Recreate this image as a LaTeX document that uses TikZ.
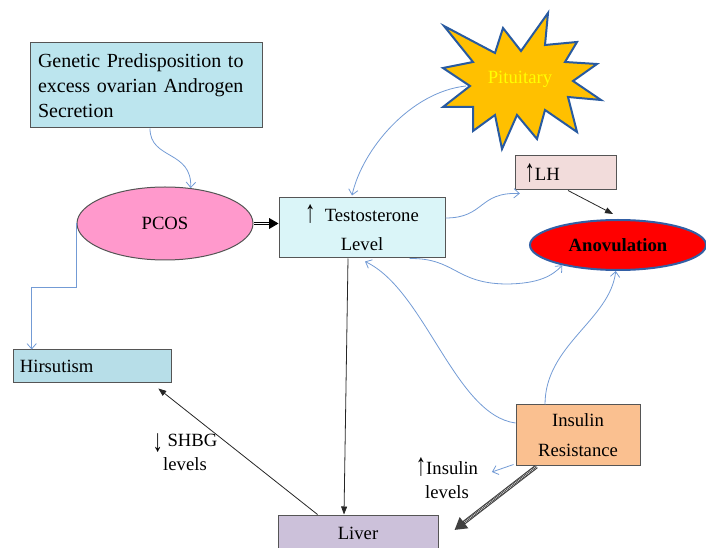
\documentclass[tikz,border=0pt]{standalone}
\usepackage{fontspec}
\setmainfont{Liberation Serif}
\usetikzlibrary{shapes.geometric,arrows.meta,calc}

\newcommand{\uparr}{\raisebox{-1pt}{\scalebox{1.1}[1.7]{↑}}}
\newcommand{\downarr}{\raisebox{-4pt}{\scalebox{1.1}[1.7]{↓}}}

\tikzset{every picture/.style={line width=0.75pt}}
\tikzset{
	box/.style={rectangle, draw={rgb, 255:red, 85; green, 85; blue, 85 }, inner sep=3pt, font=\fontsize{14}{22}\selectfont},
	oval/.style={ellipse, inner sep=0pt, font=\fontsize{14}{17}\selectfont},
	note text/.style={align=center, inner sep=1pt, font=\fontsize{14}{18}\selectfont},
	blue link/.style={draw={rgb, 255:red, 115; green, 155; blue, 213 }, line width=0.6pt, -{Straight Barb[length=4pt,width=7pt]}},
	black link/.style={draw=black!85, line width=0.6pt, -{Triangle[length=6pt,width=4.5pt]}},
	double link/.style={draw=black, double, double distance=1.4pt, line width=0.7pt, -{Triangle[length=7pt,width=8pt]}},
	hatch link/.style={draw=black!75, line width=3pt, -{Triangle[length=9pt,width=10pt]},
		postaction={draw=white!65!gray, line width=1.6pt, dash pattern=on 0.5pt off 0.8pt, shorten >=9pt, -}}
}

\begin{document}
\begin{tikzpicture}[x=0.75pt,y=0.75pt,yscale=-1,xscale=1]
	\useasboundingbox (0,0) rectangle (706,548);

	%Shape: Explosion
	\draw [fill={rgb, 255:red, 255; green, 192; blue, 0 }, draw={rgb, 255:red, 40; green, 90; blue, 160 }, line width=1.5pt, line join=miter]
		(444,26) -- (495,53) -- (503,28) -- (521,51) -- (548,13) -- (545,45) -- (577,42) -- (565,62) -- (597,64) -- (573,81)
		-- (601,100) -- (568,97) -- (577,132) -- (545,110) -- (537,139) -- (517,115) -- (502,149) -- (495,115) -- (473,131)
		-- (473,107) -- (443,107) -- (470,86) -- (443,68) -- (473,62) -- cycle ;
	\coordinate (pitl) at (466,86);

	% Text Node
	\node [font=\fontsize{14}{17}\selectfont, text={rgb, 255:red, 255; green, 255; blue, 0 }] (pit) at (520,79) {Pituitary};
	% Text Node
	\node [box, fill={rgb, 255:red, 188; green, 229; blue, 238 }, minimum width=174pt, minimum height=63.75pt, text width=162pt, inner xsep=6pt, align=left, font=\fontsize{15}{18.5}\selectfont] (gen) at (146,85.5) {Genetic Predisposition to\\excess ovarian Androgen\\Secretion};
	% Text Node
	\node [oval, fill={rgb, 255:red, 255; green, 153; blue, 204 }, draw={rgb, 255:red, 85; green, 85; blue, 85 }, minimum width=132pt, minimum height=54.75pt] (pcos) at (165,223.5) {PCOS};
	% Text Node
	\node [box, fill={rgb, 255:red, 218; green, 245; blue, 248 }, minimum width=124.5pt, minimum height=45pt, align=center] (testo) at (362,228) {\uparr\ \ Testosterone\\Level};
	% Text Node
	\node [box, fill={rgb, 255:red, 242; green, 220; blue, 219 }, minimum height=25.5pt, text width=62pt, inner xsep=7pt, align=left] (lh) at (566,173) {\uparr LH};
	% Text Node
	\node [oval, fill={rgb, 255:red, 255; green, 0; blue, 0 }, draw={rgb, 255:red, 50; green, 95; blue, 165 }, line width=1.5pt, minimum width=132pt, minimum height=37.5pt, font=\fontsize{14}{17}\selectfont\bfseries] (anov) at (618,245) {Anovulation};
	% Text Node
	\node [box, fill={rgb, 255:red, 183; green, 222; blue, 232 }, minimum height=24.75pt, text width=109pt, inner xsep=5pt, align=left] (hirs) at (92.5,366.5) {Hirsutism};
	% Text Node
	\node [box, fill={rgb, 255:red, 250; green, 192; blue, 144 }, minimum width=93pt, minimum height=45pt, align=center] (ins) at (578,435) {Insulin\\Resistance};
	% Text Node
	\node [box, fill={rgb, 255:red, 204; green, 193; blue, 218 }, minimum width=120pt, minimum height=27pt] (liver) at (358,533) {Liver};
	% Text Node
	\node [note text] (shbg) at (185,452) {\downarr\ SHBG\\levels};
	% Text Node
	\node [note text] (inslev) at (447,478) {\uparr Insulin\\levels};

	%Curve Lines
	\draw [blue link] ($(gen.south)+(4,0)$) .. controls (150,160) and (192,150) .. (pcos.54) ;
	%Straight Lines
	\draw [double link] (pcos.east) -- (pcos.east -| testo.west) ;
	%Curve Lines
	\draw [blue link] (pitl) .. controls (410,92) and (362,150) .. ($(testo.north)+(-10,-2)$) ;
	%Curve Lines
	\draw [blue link] ($(testo.east)+(0,-10)$) .. controls (485,218) and (478,192) .. ($(lh.south west)+(5,3)$) ;
	%Straight Lines
	\draw [black link] ($(lh.south)+(2,0)$) -- ($(anov.north)+(-5,-5)$) ;
	%Curve Lines
	\draw [blue link] ($(testo.south east)+(-36,0)$) .. controls (455,258) and (455,283) .. (505,284) .. controls (540,284) and (553,275) .. (anov.200) ;
	%Curve Lines
	\draw [blue link] ($(ins.west)+(0,-12)$) .. controls (455,415) and (425,290) .. ($(testo.south)+(3,3)$) ;
	%Curve Lines
	\draw [blue link] ($(ins.north)+(-33,0)$) .. controls (545,345) and (610,320) .. (anov.265) ;
	%Straight Lines
	\draw [blue link] (pcos.west) -- ++(0,64) -| ($(hirs.north west)+(19,0)$) ;
	%Straight Lines
	\draw [black link] ($(testo.south)+(-14,0)$) -- ($(liver.north)+(-14,0)$) ;
	%Straight Lines
	\draw [black link] ($(liver.north west)+(40,0)$) -- ($(hirs.south east)+(-14,5)$) ;
	%Straight Lines
	\draw [hatch link] ($(ins.south west)+(21,1)$) -- ($(liver.east)+(16,-3)$) ;
	%Straight Lines
	\draw [blue link] ($(ins.south west)+(-2,-1)$) -- ($(inslev.east)+(12,-6)$) ;

\end{tikzpicture}
\end{document}
